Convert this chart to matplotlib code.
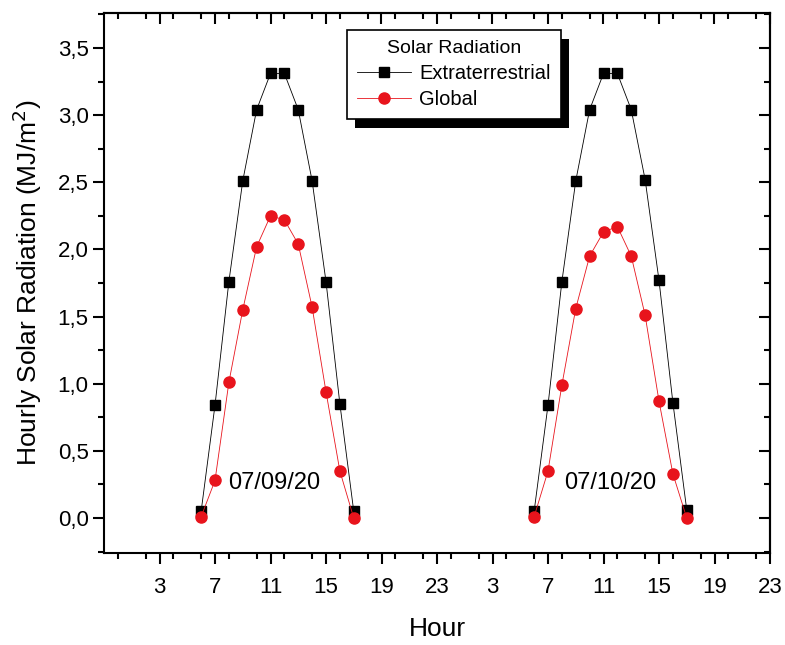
import numpy as np
import matplotlib
matplotlib.use("Agg")
import matplotlib.pyplot as plt
from matplotlib.ticker import MultipleLocator, FuncFormatter, NullFormatter
from matplotlib.patches import Rectangle

plt.rcParams['font.family'] = ['Liberation Sans', 'DejaVu Sans']

# hours of the two days (second day shifted by 24 h)
hours_day1 = [6, 7, 8, 9, 10, 11, 12, 13, 14, 15, 16, 17]
hours_day2 = [30, 31, 32, 33, 34, 35, 36, 37, 38, 39, 40, 41]

extra_day1 = [0.05, 0.84, 1.76, 2.51, 3.04, 3.31, 3.31, 3.04, 2.51, 1.76, 0.85, 0.05]
extra_day2 = [0.05, 0.84, 1.76, 2.51, 3.04, 3.31, 3.31, 3.04, 2.52, 1.77, 0.86, 0.06]
global_day1 = [0.01, 0.28, 1.01, 1.55, 2.02, 2.25, 2.22, 2.04, 1.57, 0.94, 0.35, 0.00]
global_day2 = [0.01, 0.35, 0.99, 1.56, 1.95, 2.13, 2.17, 1.95, 1.51, 0.87, 0.33, 0.00]

day_labels = ["07/09/20", "07/10/20"]
day_label_x = [11.3, 35.5]

# join the days with a gap so the lines are not connected
x = hours_day1 + [np.nan] + hours_day2
extra = extra_day1 + [np.nan] + extra_day2
glob = global_day1 + [np.nan] + global_day2

red = '#e8141c'

fig = plt.figure(figsize=(7.85, 6.45), dpi=100)
ax = fig.add_axes([104 / 785, 1 - 553 / 645, 666 / 785, 540 / 645])

ax.plot(x, extra, color='black', lw=0.6, marker='s', ms=7,
        mec='black', mfc='black', label='Extraterrestrial')
ax.plot(x, glob, color=red, lw=0.6, marker='o', ms=8,
        mec=red, mfc=red, label='Global')

ax.set_xlim(-1, 47)
ax.set_ylim(-0.26, 3.76)
xt = np.arange(3, 48, 4)
yt = np.arange(0, 3.51, 0.5)
ax.set_xticks(xt)
ax.xaxis.set_minor_locator(MultipleLocator(2))
ax.xaxis.set_major_formatter(FuncFormatter(lambda v, p: f"{int(round(v)) % 24}"))
ax.set_yticks(yt)
ax.yaxis.set_minor_locator(MultipleLocator(0.25))
ax.yaxis.set_major_formatter(FuncFormatter(lambda v, p: f"{v:.1f}".replace('.', ',')))

ax.tick_params(axis='both', which='major', labelsize=16, width=1.5, length=8, direction='out')
ax.tick_params(axis='both', which='minor', width=1.5, length=4, direction='out')
ax.tick_params(axis='x', which='major', pad=9)
ax.tick_params(axis='y', which='major', pad=3)
for sp in ax.spines.values():
    sp.set_linewidth(1.5)

# inward ticks on top and right
top = ax.secondary_xaxis('top')
top.set_xticks(xt)
top.xaxis.set_minor_locator(MultipleLocator(2))
top.tick_params(which='major', direction='in', length=8, width=1.5, labeltop=False)
top.tick_params(which='minor', direction='in', length=4, width=1.5)
top.xaxis.set_major_formatter(NullFormatter())
right = ax.secondary_yaxis('right')
right.set_yticks(yt)
right.yaxis.set_minor_locator(MultipleLocator(0.25))
right.tick_params(which='major', direction='in', length=8, width=1.5, labelright=False)
right.tick_params(which='minor', direction='in', length=4, width=1.5)
right.yaxis.set_major_formatter(NullFormatter())
for s in (top, right):
    for sp in s.spines.values():
        sp.set_linewidth(1.5)

ax.set_xlabel('Hour', fontsize=19, labelpad=14)
ax.set_ylabel('Hourly Solar Radiation (MJ/m$^2$)', fontsize=19, labelpad=10)

for lx, lab in zip(day_label_x, day_labels):
    ax.text(lx, 0.26, lab, fontsize=17, ha='center', va='center')

leg = ax.legend(loc='upper left', bbox_to_anchor=(243 / 666, 1 - 17 / 540),
                borderaxespad=0, title='Solar Radiation', fontsize=14.5,
                title_fontsize=14, frameon=True, fancybox=False, framealpha=1,
                edgecolor='black', handlelength=2.7, borderpad=0.5,
                labelspacing=0.35, handletextpad=0.4)
leg.get_frame().set_linewidth(1.2)
leg.set_zorder(5)

# thick black offset shadow behind the legend box
fig.canvas.draw()
bb = leg.get_window_extent()
inv = ax.transAxes.inverted()
(x0, y0), (x1, y1) = inv.transform([[bb.x0 + 8, bb.y0 - 9], [bb.x1 + 8, bb.y1 - 9]])
ax.add_patch(Rectangle((x0, y0), x1 - x0, y1 - y0, transform=ax.transAxes,
                       facecolor='black', edgecolor='none', zorder=4, clip_on=False))

fig.savefig('out.png', dpi=100)
